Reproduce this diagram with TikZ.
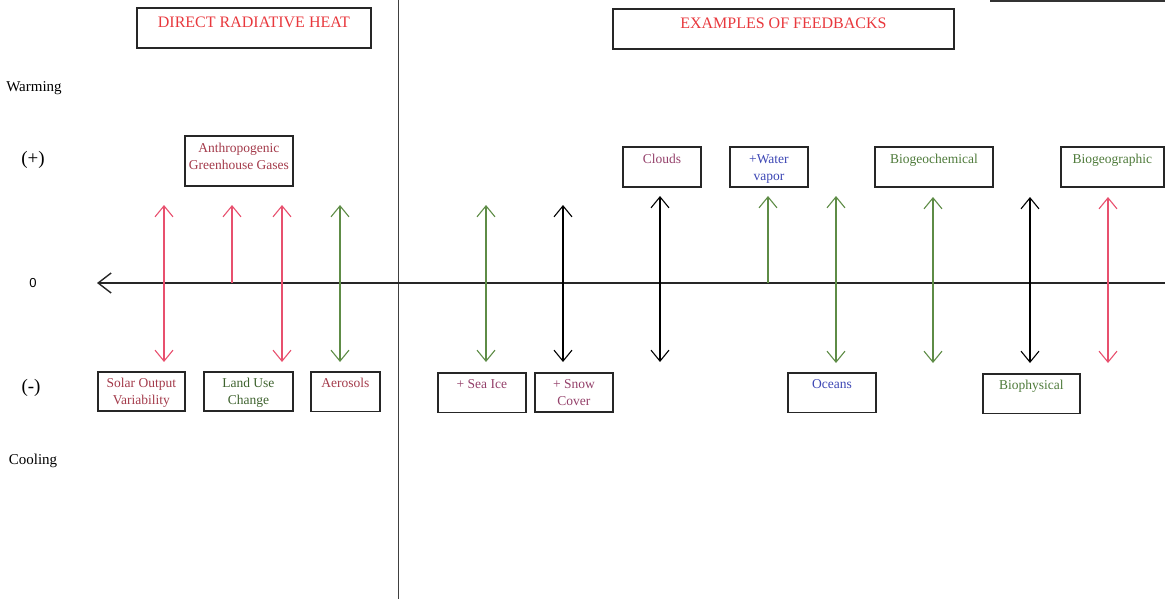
\documentclass[tikz,border=0pt]{standalone}
\usepackage{fontspec}
\setmainfont{Liberation Serif}
\newfontfamily\numfont{Liberation Sans}
\usepackage{tikz}
\usetikzlibrary{arrows.meta,positioning}
\definecolor{headred}{HTML}{E8383D}
\definecolor{forcered}{HTML}{A33A4A}
\definecolor{fbred}{HTML}{94406A}
\definecolor{labgreen}{HTML}{4E7A3A}
\definecolor{labblue}{HTML}{3C46B4}
\definecolor{arrowred}{HTML}{E8506E}
\definecolor{arrowgreen}{HTML}{5E8C46}

\tikzset{
  headbox/.style={draw=black!85,line width=1.8pt,inner sep=0pt,anchor=north west,
    minimum height=40pt,text height=19.5pt,text depth=20.5pt,
    font=\fontsize{16}{19}\selectfont,text=headred},
  topbox/.style={draw=black!85,line width=1.8pt,inner sep=0pt,anchor=north west,align=center,
    text height=16.5pt,text depth=23.5pt,font=\fontsize{13.5}{17}\selectfont},
  toptwo/.style={topbox,text height=33.5pt,text depth=6.5pt},
  lowbox/.style={topbox,text height=15.5pt,text depth=24pt},
  lowtwo/.style={topbox,text height=32.5pt,text depth=6.5pt},
  side/.style={font=\fontsize{15}{18}\selectfont},
  >={Straight Barb[length=11pt,width=18pt]}
}

\begin{document}
\begin{tikzpicture}[x=1pt,y=-1pt]
  \useasboundingbox (0,0) rectangle (1165,599);
  % divider and zero line
  \coordinate (divtop) at (398,0);
  \coordinate (divbot) at (398,599);
  \draw[black!75,line width=1pt] (divtop)--(divbot);
  \coordinate (rimleft) at (990,1);
  \coordinate (rimright) at (1165,1);
  \draw[black!80,line width=1.5pt] (rimleft)--(rimright);
  \coordinate (axisend) at (1165,283);
  \coordinate (axistip) at (97,283);
  \draw[black!85,line width=1.4pt,-{Straight Barb[length=13pt,width=20pt]}] (axisend)--(axistip);

  % side labels
  \node[side] (warm) at (34,88) {Warming};
  \node[side,font=\fontsize{19}{22}\selectfont] (plus) at (33,160) {(+)};
  \node[font=\numfont\fontsize{13}{15}\selectfont] (zero) at (33,283) {0};
  \node[side,font=\fontsize{19}{22}\selectfont] (minus) at (31,388) {(-)};
  \node[side] (cool) at (33,461) {Cooling};

  % headings
  \node[headbox,minimum width=234pt] (direct) at (136,7) {DIRECT RADIATIVE HEAT};
  \node[headbox,minimum width=341pt] (examples) at (612,8) {EXAMPLES OF FEEDBACKS};

  % upper boxes
  \node[toptwo,minimum width=108pt,text depth=16.5pt,text=forcered] (ghg) at (184,135) {Anthropogenic\\Greenhouse Gases};
  \node[topbox,minimum width=78pt,text=fbred] (clouds) at (622,146) {Clouds};
  \node[toptwo,minimum width=78pt,text=labblue] (vapor) at (729,146) {+Water\\vapor};
  \node[topbox,minimum width=118pt,text=labgreen] (biochem) at (874,146) {Biogeochemical};
  \node[topbox,minimum width=103pt,text=labgreen] (biogeo) at (1060,146) {Biogeographic};

  % lower boxes
  \node[lowtwo,minimum width=87pt,text=forcered] (solar) at (97,371) {Solar Output\\Variability};
  \node[lowtwo,minimum width=89pt,text=labgreen!80!black] (landuse) at (203,371) {Land Use\\Change};
  \node[lowbox,minimum width=69pt,text=forcered] (aerosols) at (310,371) {Aerosols};
  \node[lowbox,minimum width=88pt,text=fbred] (seaice) at (437,372) {+ Sea Ice};
  \node[lowtwo,minimum width=78pt,text=fbred] (snow) at (534,372) {+ Snow\\Cover};
  \node[lowbox,minimum width=88pt,text=labblue] (oceans) at (787,372) {Oceans};
  \node[lowbox,minimum width=97pt,text=labgreen] (biophys) at (982,373) {Biophysical};

  % forcing and feedback arrows
  \foreach \xp/\ytop/\ybot/\col/\tip in {164/205/362/arrowred/{<->},232/205/283/arrowred/{->},
      282/205/362/arrowred/{<->},340/205/362/arrowgreen/{<->},486/205/362/arrowgreen/{<->},
      563/205/362/black/{<->},660/196/362/black/{<->},768/196/283/arrowgreen/{->},
      836/196/363/arrowgreen/{<->},933/197/363/arrowgreen/{<->},1030/197/363/black/{<->},
      1108/197/363/arrowred/{<->}}{
    \coordinate (t\xp) at (\xp,\ytop);
    \coordinate (b\xp) at (\xp,\ybot);
    \draw[\col,line width=1.1pt,\tip] (b\xp)--(t\xp);
  }
\end{tikzpicture}
\end{document}
